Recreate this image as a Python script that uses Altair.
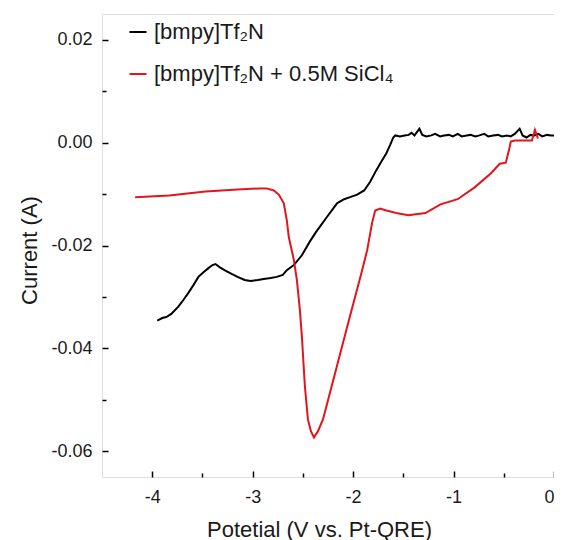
import altair as alt
import pandas as pd

FONT = "Liberation Sans"

series_names = ["[bmpy]Tf₂N", "[bmpy]Tf₂N + 0.5M SiCl₄"]
series_colors = ["#000000", "#e3141c"]

# [bmpy]Tf2N (black)
black_v = [-3.95, -3.90, -3.86, -3.81, -3.74, -3.69, -3.64, -3.59, -3.54, -3.49,
           -3.44, -3.40, -3.37, -3.33, -3.28, -3.22, -3.15, -3.08, -3.02, -2.95,
           -2.89, -2.82, -2.76, -2.70, -2.66, -2.59, -2.51, -2.43, -2.37, -2.27,
           -2.16, -2.09, -2.03, -1.96, -1.89, -1.83, -1.77, -1.72, -1.67, -1.63,
           -1.60, -1.58,
           -1.535, -1.487, -1.447, -1.418, -1.389, -1.340, -1.311, -1.271, -1.222, -1.183,
           -1.134, -1.095, -1.046, -1.007, -0.958, -0.919, -0.870, -0.831, -0.782, -0.743,
           -0.694, -0.655, -0.606, -0.557, -0.518, -0.469, -0.430, -0.391, -0.342, -0.313,
           -0.274, -0.235, -0.196, -0.156, -0.117, -0.068, -0.029, 0.0]
black_i = [-0.0346, -0.0341, -0.0339, -0.0333, -0.0319, -0.0306, -0.0292, -0.0277, -0.0261, -0.0252,
           -0.0244, -0.0238, -0.0236, -0.0242, -0.0248, -0.0254, -0.0261, -0.0267, -0.0269, -0.0267,
           -0.0265, -0.0263, -0.0261, -0.0257, -0.0248, -0.0238, -0.0219, -0.0192, -0.0174, -0.0147,
           -0.0118, -0.0110, -0.0106, -0.0101, -0.0093, -0.0076, -0.0054, -0.0037, -0.0021, -0.0004,
           0.0010, 0.0014,
           0.0012, 0.0014, 0.0015, 0.0019, 0.0014, 0.0027, 0.0015, 0.0012, 0.0014, 0.0017,
           0.0012, 0.0014, 0.0015, 0.0012, 0.0017, 0.0012, 0.0014, 0.0015, 0.0012, 0.0014,
           0.0017, 0.0012, 0.0014, 0.0015, 0.0012, 0.0014, 0.0012, 0.0017, 0.0027, 0.0014,
           0.0010, 0.0015, 0.0014, 0.0017, 0.0012, 0.0015, 0.0014, 0.0014]

# [bmpy]Tf2N + 0.5M SiCl4 (red)
red_v = [-4.17, -3.83, -3.47, -3.15, -2.93, -2.86, -2.79, -2.74, -2.69, -2.66,
         -2.64, -2.59, -2.56, -2.53, -2.51, -2.48, -2.45, -2.42, -2.39, -2.35,
         -2.30, -2.17, -2.04, -1.91, -1.86, -1.81, -1.78, -1.73, -1.67, -1.57,
         -1.45, -1.28, -1.13, -0.96, -0.79, -0.63, -0.54, -0.48, -0.45, -0.43,
         -0.39, -0.22, -0.19, -0.16]
red_i = [-0.0106, -0.0103, -0.0095, -0.0091, -0.0089, -0.0089, -0.0093, -0.0101, -0.0118, -0.0151,
         -0.0184, -0.0228, -0.0267, -0.0325, -0.0377, -0.0474, -0.0538, -0.0561, -0.0573, -0.0561,
         -0.0538, -0.0441, -0.0344, -0.0248, -0.0209, -0.0155, -0.0132, -0.0128, -0.0132, -0.0137,
         -0.0141, -0.0137, -0.0120, -0.0110, -0.0087, -0.0060, -0.0041, -0.0039, -0.0016, 0.0002,
         0.0004, 0.0004, 0.0025, 0.0008]

x_major = [-4, -3, -2, -1, 0]
x_minor = [-3.5, -2.5, -1.5, -0.5]
y_major = [0.02, 0.0, -0.02, -0.04, -0.06]
y_minor = [0.01, -0.01, -0.03, -0.05]

rows = []
for k, (v, i) in enumerate(zip(black_v, black_i)):
    rows.append({"series": series_names[0], "V": v, "I": i, "k": k})
for k, (v, i) in enumerate(zip(red_v, red_i)):
    rows.append({"series": series_names[1], "V": v, "I": i, "k": k})
df = pd.DataFrame(rows)

xs = alt.Scale(domain=[-4.5, 0], nice=False, zero=False)
ys = alt.Scale(domain=[-0.065, 0.025], nice=False, zero=False)

x_lab = "datum.value < 0 ? '-' + format(-datum.value, 'd') : format(datum.value, 'd')"
y_lab = "datum.value < -0.00001 ? '-' + format(-datum.value, '.2f') : format(abs(datum.value), '.2f')"

lines = alt.Chart(df).mark_line(strokeWidth=2, clip=True).encode(
    x=alt.X("V:Q", scale=xs, axis=alt.Axis(
        orient="bottom", values=x_major, ticks=False, domain=False, grid=False,
        labelExpr=x_lab, labelFontSize=18, labelPadding=11, labelColor="#1a1a1a",
        title="Potetial (V vs. Pt-QRE)", titleFontSize=22, titleFontWeight="normal",
        titleColor="#1a1a1a", titleX=217, titleY=59, titleBaseline="alphabetic",
        titleAlign="center", titleAnchor="start")),
    y=alt.Y("I:Q", scale=ys, axis=alt.Axis(
        orient="left", values=y_major, ticks=False, domain=False, grid=False,
        labelExpr=y_lab, labelFontSize=18, labelPadding=10, labelColor="#1a1a1a",
        title="Current (A)", titleFontSize=22, titleFontWeight="normal",
        titleColor="#1a1a1a", titleX=-66, titleY=236, titleBaseline="alphabetic",
        titleAlign="center", titleAnchor="start", titleAngle=270)),
    color=alt.Color("series:N", scale=alt.Scale(domain=series_names, range=series_colors),
                    legend=alt.Legend(title=None, orient="none", legendX=25, legendY=7,
                                      symbolType="stroke", symbolSize=289, symbolStrokeWidth=2,
                                      labelFontSize=22, labelFont=FONT, labelColor="#1a1a1a",
                                      labelOffset=5, rowPadding=20, padding=0, labelLimit=0)),
    order="k:Q",
)

major = alt.Chart(df).mark_line(opacity=0).encode(
    x=alt.X("V:Q", scale=xs, axis=alt.Axis(
        orient="bottom", values=x_major, labels=False, domain=False, grid=False,
        ticks=True, tickSize=6, tickWidth=1.5, tickColor="black", offset=-6, title=None)),
    y=alt.Y("I:Q", scale=ys, axis=alt.Axis(
        orient="left", values=y_major, labels=False, domain=False, grid=False,
        ticks=True, tickSize=6, tickWidth=1.5, tickColor="black", offset=-6, title=None)),
    detail="series:N",
)

minor = alt.Chart(df).mark_line(opacity=0).encode(
    x=alt.X("V:Q", scale=xs, axis=alt.Axis(
        orient="bottom", values=x_minor, labels=False, domain=False, grid=False,
        ticks=True, tickSize=4, tickWidth=1.5, tickColor="black", offset=-4, title=None)),
    y=alt.Y("I:Q", scale=ys, axis=alt.Axis(
        orient="left", values=y_minor, labels=False, domain=False, grid=False,
        ticks=True, tickSize=4, tickWidth=1.5, tickColor="black", offset=-4, title=None)),
    detail="series:N",
)

chart = alt.layer(lines, major, minor).resolve_axis(
    x="independent", y="independent"
).properties(
    width=452, height=463,
    autosize=alt.AutoSizeParams(type="none"),
    padding={"left": 94, "top": 6, "right": 0, "bottom": 63},
).configure_view(
    stroke="#1a1a1a", strokeWidth=1.5
).configure_axis(
    labelFont=FONT, titleFont=FONT
).configure(
    font=FONT, background="white"
)

chart.save("out.html", embed_options={"renderer": "svg", "actions": False})
